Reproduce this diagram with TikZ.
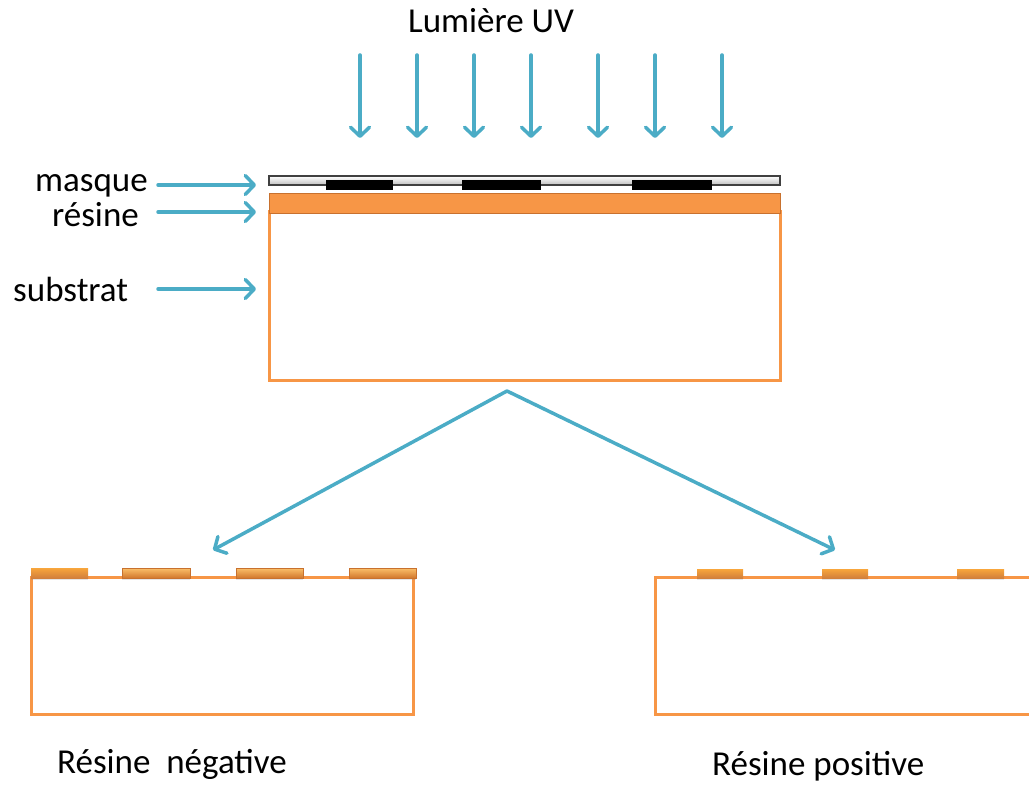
\documentclass[tikz,border=0pt]{standalone}
\usepackage{fontspec}
\setmainfont{Carlito}
\usetikzlibrary{arrows.meta,shadows}
\definecolor{uvblue}{HTML}{4BACC6}
\definecolor{resist}{HTML}{F79646}
\definecolor{resistedge}{HTML}{C8712E}
\definecolor{bevellight}{HTML}{FBC06A}
\definecolor{beveldark}{HTML}{D2772C}
\begin{document}
\begin{tikzpicture}[x=1pt,y=-1pt,
  txt/.style={font=\fontsize{35}{40}\selectfont, inner sep=0pt, text=black},
  pointer/.style={draw=uvblue, line width=3.5pt, line cap=round,
    -{Straight Barb[length=9pt,width=19pt,line cap=round,line join=round]}},
  block/.style={rectangle, inner sep=0pt, outer sep=0pt},
  substrate/.style={block, draw=resist, line width=3pt, fill=white},
  chrome/.style={block, draw=black!75, line width=1.2pt, top color=white, bottom color=black!25},
  opaque/.style={block, fill=black},
  layer/.style={block, fill=resist, draw=resistedge, line width=1pt},
  island/.style={block, top color=bevellight, bottom color=beveldark, draw=resistedge, line width=0.8pt,
    drop shadow={opacity=0.2, shadow xshift=0pt, shadow yshift=-2pt}},
  flatisland/.style={block, top color=resist!85!yellow, bottom color=resist!85!black,
    drop shadow={opacity=0.2, shadow xshift=0pt, shadow yshift=-2pt}},
]
\useasboundingbox (0,0) rectangle (1029,805);

% UV illumination
\node[txt, anchor=base] (uv) at (491,33) {Lumière UV};
\foreach \x [count=\i] in {360,417,474,531,598,655,722}{
  \coordinate (ray\i) at (\x,55);
  \coordinate (hit\i) at (\x,138);
  \draw[pointer] (ray\i) -- (hit\i);
}

% wafer stack: substrate, resist layer, mask
\node[substrate, minimum width=511pt, minimum height=168pt] (sub) at (524.5,296) {};
\node[layer, minimum width=511pt, minimum height=20pt] (res) at (524.5,204) {};
\node[chrome, minimum width=511pt, minimum height=9pt] (mask) at (524.5,180.5) {};
\node[opaque, minimum width=67pt, minimum height=10pt] (m1) at (359.5,185) {};
\node[opaque, minimum width=79pt, minimum height=10pt] (m2) at (501.5,185) {};
\node[opaque, minimum width=80pt, minimum height=10pt] (m3) at (672,185) {};

% layer labels
\node[txt, anchor=base east] (lmask) at (148,192) {masque};
\node[txt, anchor=base east] (lres) at (139,227) {résine};
\node[txt, anchor=base west] (lsub) at (13,302) {substrat};
\coordinate (amask0) at (158,185); \coordinate (amask1) at (256,185);
\coordinate (ares0) at (158,212);  \coordinate (ares1) at (256,212);
\coordinate (asub0) at (158,289);  \coordinate (asub1) at (256,289);
\draw[pointer] (amask0) -- (amask1);
\draw[pointer] (ares0) -- (ares1);
\draw[pointer] (asub0) -- (asub1);

% development branches
\coordinate (apex) at (507,391);
\coordinate (negtip) at (213,550);
\coordinate (postip) at (835,550);
\draw[pointer] (apex) -- (negtip);
\draw[pointer] (apex) -- (postip);

% negative resist result
\node[substrate, minimum width=382pt, minimum height=137pt] (negsub) at (222,645.5) {};
\node[flatisland, minimum width=57pt, minimum height=10pt] (n1) at (59.5,573) {};
\node[island, minimum width=68pt, minimum height=10pt] (n2) at (156,573) {};
\node[island, minimum width=67pt, minimum height=10pt] (n3) at (269.5,573) {};
\node[island, minimum width=67pt, minimum height=10pt] (n4) at (382.5,573) {};
\node[txt, anchor=base west] (lneg) at (57,773) {Résine\ \ négative};

% positive resist result (runs off the right edge)
\coordinate (ps0) at (1029,577);
\coordinate (ps1) at (655,577);
\coordinate (ps2) at (655,714);
\coordinate (ps3) at (1029,714);
\draw[resist, line width=3pt] (ps0) -- (ps1) -- (ps2) -- (ps3);
\node[flatisland, minimum width=46pt, minimum height=9pt] (p1) at (720,573.5) {};
\node[flatisland, minimum width=46pt, minimum height=9pt] (p2) at (845,573.5) {};
\node[flatisland, minimum width=47pt, minimum height=9pt] (p3) at (980.5,573.5) {};
\node[txt, anchor=base west] (lpos) at (712,775) {Résine positive};
\end{tikzpicture}
\end{document}
